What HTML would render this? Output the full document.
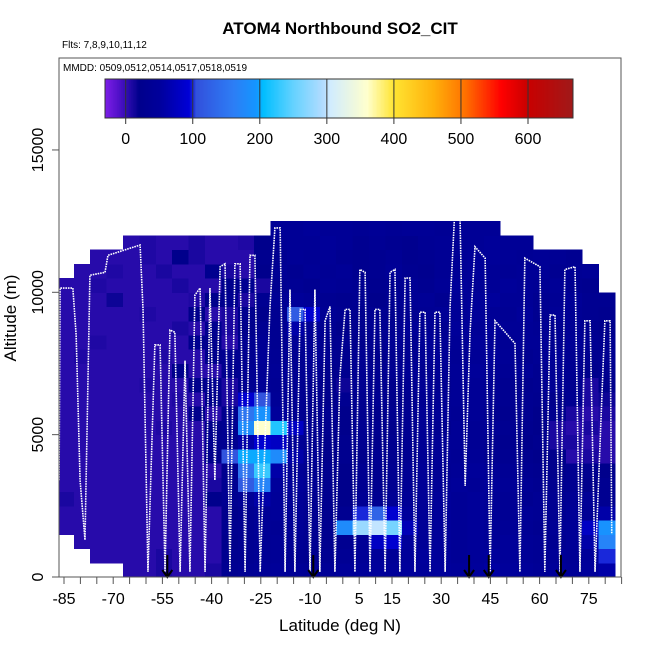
<!DOCTYPE html>
<html><head><meta charset="utf-8">
<style>
html,body{margin:0;padding:0;background:#fff;}
svg{display:block;font-family:"Liberation Sans",Arial,sans-serif;}
</style></head>
<body>
<svg id="chart" width="650" height="650" viewBox="0 0 650 650" xmlns="http://www.w3.org/2000/svg">
<rect x="0" y="0" width="650" height="650" fill="#fff"/>
<text x="340" y="34" text-anchor="middle" font-size="17" font-weight="bold">ATOM4 Northbound SO2_CIT</text>
<text x="62" y="48" font-size="10">Flts: 7,8,9,10,11,12</text>
<g id="heat"></g>
<g id="track"></g>
<g id="arrows"></g>
<rect x="59" y="58" width="562" height="519" fill="none" stroke="#555" stroke-width="1"/>
<text x="63" y="71" font-size="10">MMDD: 0509,0512,0514,0517,0518,0519</text>
<g id="cbar"></g>
<g id="xaxis"></g>
<g id="yaxis"></g>
<text x="340" y="631" text-anchor="middle" font-size="17">Latitude (deg N)</text>
<text transform="translate(16,318) rotate(-90)" text-anchor="middle" font-size="17">Altitude (m)</text>
</svg>
<script>
const latEdgeStart = -87, latStep = 5;
const altStep = 500;
const rows = [
[-1,-1,-1,-1,5,5,10,5,5,10, 30,35,40,45,40,35,40,45,45,50, 45,50,45,50,45,50,55,50,45,40, 45,40,50,60],
[-1,-1,5,5,5,5,10,5,5,5, 25,30,35,40,30,25,30,35,40,45, 40,45,50,45,40,45,50,45,40,35, 40,35,45,100],
[-1,5,5,5,5,5,5,5,5,5, 20,30,35,40,35,30,25,30,40,80, 90,50,40,45,40,45,40,45,40,35, 30,40,60,170],
[5,5,5,5,5,5,5,5,5,5, 25,30,40,35,40,30,25,180,280,300, 260,70,40,45,40,45,40,40,35,30, 35,40,80,190],
[5,5,5,5,5,5,5,5,5,5, 20,30,40,45,40,30,25,30,100,130, 90,50,40,45,40,45,40,35,40,35, 30,40,35,60],
[10,5,5,5,5,5,5,5,5,20, 30,40,60,45,40,30,25,20,35,30, 35,40,40,45,40,45,40,35,30,35, 30,35,40,30],
[5,5,5,5,5,5,5,5,5,10, 30,120,170,50,45,35,25,20,30,25, 30,35,40,40,45,40,45,40,35,30, 25,30,20,30],
[5,5,5,5,5,5,5,5,5,5, 25,150,230,60,40,30,25,20,30,25, 30,35,40,35,40,45,40,35,30,25, 20,30,25,20],
[5,5,5,5,5,5,5,5,5,20, 110,200,200,180,60,35,20,25,20,30, 25,30,35,40,35,40,30,30,25,20, 20,5,10,5],
[5,5,5,5,5,5,5,5,5,25, 30,60,90,80,40,30,20,25,30,20, 25,30,35,40,40,35,30,25,20,25, 10,10,5,5],
[5,5,5,5,5,5,8,5,5,20, 30,180,360,220,80,30,25,20,30,25, 20,30,35,30,40,35,40,30,25,20, 10,5,10,5],
[5,5,5,5,5,5,5,5,20,5, 25,150,190,50,30,25,30,20,25,20, 25,30,35,40,35,40,30,25,30,20, 25,10,5,10],
[5,5,5,5,5,5,5,8,5,20, 10,90,110,40,30,25,20,30,25,30, 20,25,30,35,40,40,35,30,30,25, 20,30,10,15],
[5,5,5,5,5,8,5,5,20,25, 10,30,40,35,30,25,20,15,30,25, 20,30,35,30,40,40,35,30,25,30, 35,25,10,20],
[5,5,5,5,5,5,5,20,5,5, 25,30,35,40,30,35,20,25,30,25, 30,35,30,35,40,45,40,35,40,30, 35,30,20,25],
[5,8,5,5,5,5,8,5,5,20, 30,25,40,35,30,40,30,25,30,20, 25,30,35,40,35,40,45,40,30,35, 40,30,25,30],
[5,5,8,5,5,5,5,5,25,20, 5,30,35,30,40,35,25,30,20,25, 35,30,40,35,40,45,40,35,40,40, 30,40,30,25],
[5,5,5,5,5,5,5,10,5,25, 10,20,30,30,60,40,30,20,25,30, 30,40,35,30,45,40,45,40,40,35, 30,35,25,20],
[5,5,5,5,5,8,5,5,20,5, 10,25,20,30,120,90,35,30,25,30, 25,30,35,40,40,45,40,35,45,30, 40,35,30,25],
[5,5,5,15,5,5,5,5,8,20, 25,10,30,35,45,40,30,25,30,20, 30,35,40,30,40,45,50,40,40,30, 35,40,30,30],
[5,5,8,5,5,5,5,10,5,5, 20,30,10,30,35,30,40,35,30,25, 30,35,30,40,45,40,40,45,40,35, 40,30,25,-1],
[-1,5,5,8,5,5,10,5,5,25, 10,5,20,35,30,40,35,40,25,30, 40,30,25,35,40,45,40,35,40,40, 30,35,40,-1],
[-1,-1,5,5,5,8,5,20,10,5, 5,5,25,30,40,35,40,30,25,30, 35,25,30,35,40,45,45,40,35,40, 35,30,-1,-1],
[-1,-1,-1,-1,5,8,5,5,10,5, 5,8,20,35,40,40,45,40,30,35, 30,25,35,40,35,40,45,40,40,-1, -1,-1,-1,-1],
[-1,-1,-1,-1,-1,-1,-1,-1,-1,-1, -1,-1,-1,40,40,45,40,40,35,40, 35,40,40,35,40,40,40,-1,-1,-1, -1,-1,-1,-1]
];
const trackLat = [-86.5,-86.2,-82.3,-81.3,-80.1,-78.6,-77.1,-72.5,-71.6,-61.8,-60.9,-59.4,-57.3,-55.7,-54.2,-52.7,-51.2,-49.6,-48.1,-46.6,-45.1,-43.5,-42,-40.5,-39,-37.4,-35.9,-34.4,-32.9,-31.3,-29.8,-28.3,-26.8,-25.2,-22.2,-20.7,-19.1,-17.6,-16.1,-14.6,-13,-11.5,-10,-8.5,-7,-5.4,-3.9,-2.4,-0.9,0.7,2.2,3.7,5.2,6.8,8.3,9.8,11.3,12.9,14.4,15.9,17.4,19,20.5,22,23.5,25.1,26.6,28.1,29.6,31.2,32.7,34.2,35.7,37.3,38.8,40.3,43.4,44.9,46.4,49.5,52.5,54,55.5,60.1,61.6,63.2,64.7,66.2,67.7,70.8,72.3,73.8,75.4,76.9,79.9,81.5,82];
const trackAlt = [3400,10150,10150,8500,3400,1300,10600,10700,11300,11660,9380,180,8150,8150,180,8670,8600,180,7600,180,9900,10150,180,10150,3400,10900,11000,180,11000,11000,180,11300,11300,180,9500,12260,12260,180,10100,180,9400,9400,180,10100,180,9000,9500,180,7000,9400,9400,180,10800,10700,180,9400,9400,180,10700,10800,180,10500,10500,180,9300,9300,180,9300,9300,180,9500,13000,12900,3200,8600,11600,11200,180,9000,8600,8200,180,11200,10900,180,9200,9200,180,10800,10900,180,9000,9000,180,9000,9000,1500];
const arrowLats = [-53.5,-9,38.5,44.5,66.5];
const xTickLabels = [-85,-70,-55,-40,-25,-10,5,15,30,45,60,75];
const yTickLabels = [0,5000,10000,15000];
const cbarTicks = [0,100,200,300,400,500,600];

const NS='http://www.w3.org/2000/svg';
const xOf = lat => 64 + (lat + 85) * 3.28;
const yOf = alt => 577 - alt * 0.02847;
const cOf = v => 125.7 + v * 0.6705;
const stops = [[-31,[125,30,232]],[-10,[80,16,200]],[0,[52,14,180]],[20,[0,0,140]],[50,[0,0,155]],[95,[0,0,215]],[105,[50,80,220]],[160,[45,125,245]],[195,[20,150,255]],[205,[0,190,255]],[250,[100,210,255]],[295,[180,220,255]],[305,[208,236,255]],[360,[255,255,205]],[400,[255,228,50]],[460,[255,175,10]],[505,[255,115,0]],[560,[255,0,0]],[600,[200,0,0]],[667,[160,25,25]]];
function col(v){
  if(v<=stops[0][0]) return 'rgb('+stops[0][1].join(',')+')';
  for(let i=1;i<stops.length;i++){
    if(v<=stops[i][0]){
      const a=stops[i-1],b=stops[i],t=(v-a[0])/(b[0]-a[0]);
      return 'rgb('+a[1].map((c,k)=>Math.round(c+(b[1][k]-c)*t)).join(',')+')';
    }
  }
  return 'rgb('+stops[stops.length-1][1].join(',')+')';
}
function el(tag,attrs,parent){const e=document.createElementNS(NS,tag);for(const k in attrs)e.setAttribute(k,attrs[k]);parent.appendChild(e);return e;}

const heat=document.getElementById('heat');
rows.forEach((row,j)=>{
  row.forEach((v,i)=>{
    if(v<0) return;
    const x0=Math.max(59,xOf(latEdgeStart+i*latStep)), x1=Math.min(621,xOf(latEdgeStart+(i+1)*latStep));
    const y0=yOf((j+1)*altStep), y1=yOf(j*altStep);
    const r=el('rect',{x:x0,y:y0,width:x1-x0+0.5,height:y1-y0+0.5,fill:col(v),'shape-rendering':'crispEdges'},heat);
    
    
  });
});

const track=document.getElementById('track');
const pl=el('polyline',{points:trackLat.map((l,k)=>xOf(l)+','+yOf(trackAlt[k])).join(' '),fill:'none',stroke:'#fff','stroke-width':1.6,'stroke-dasharray':'1.6 0.9'},track);



const arrows=document.getElementById('arrows');
arrowLats.forEach(l=>{
  const x=xOf(l);
  const g=el('g',{},arrows);
  
  
  el('line',{x1:x,y1:555,x2:x,y2:577,stroke:'#000','stroke-width':2},g);
  el('polyline',{points:(x-5)+',570 '+x+',577 '+(x+5)+',570',fill:'none',stroke:'#000','stroke-width':2},g);
});

const xa=document.getElementById('xaxis');
for(let l=-85;l<=85;l+=5){
  const t=el('line',{x1:xOf(l),y1:577,x2:xOf(l),y2:584,stroke:'#555','stroke-width':1},xa);
  
  
}
xTickLabels.forEach(l=>{
  const t=el('text',{x:xOf(l),y:604,'text-anchor':'middle','font-size':16},xa);
  t.textContent=l;
  
  
});

const ya=document.getElementById('yaxis');
yTickLabels.forEach(a=>{
  const y=yOf(a);
  const t=el('line',{x1:52,y1:y,x2:59,y2:y,stroke:'#555','stroke-width':1},ya);
  
  
  const tx=el('text',{transform:'translate(43,'+y+') rotate(-90)','text-anchor':'middle','font-size':16},ya);
  tx.textContent=a;
  
  
});

const cb=document.getElementById('cbar');
for(let v=-31;v<667;v+=2){
  const s=el('rect',{x:cOf(v),y:79,width:1.6,height:39,fill:col(v+1),'shape-rendering':'crispEdges'},cb);
  
  
}
el('rect',{x:105,y:79,width:468,height:39,fill:'none',stroke:'#333','stroke-width':1},cb);
cbarTicks.forEach(v=>{
  const x=cOf(v);
  const t=el('line',{x1:x,y1:79,x2:x,y2:124,stroke:'#333','stroke-width':1},cb);
  
  
  const tx=el('text',{x:x,y:144,'text-anchor':'middle','font-size':16},cb);
  tx.textContent=v;
  
  
});
</script>
</body></html>
